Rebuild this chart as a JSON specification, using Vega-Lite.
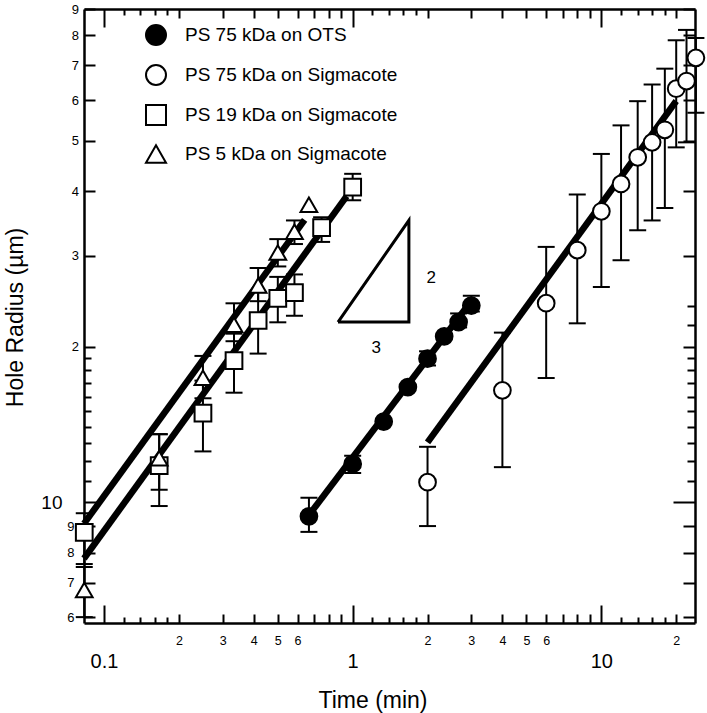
{
  "$schema": "https://vega.github.io/schema/vega-lite/v6.json",
  "width": 611,
  "height": 614,
  "autosize": "none",
  "padding": {"left": 84, "top": 9, "right": 12, "bottom": 90},
  "background": "white",
  "config": {
    "view": {"stroke": null},
    "font": "Liberation Sans",
    "legend": {"symbolStrokeWidth": 2, "symbolSize": 400, "symbolOpacity": 1}
  },
  "datasets": {
    "pts": [
      {"series": "PS 75 kDa on OTS", "t": 0.667, "r": 9.40, "lo": 8.77, "hi": 10.21},
      {"series": "PS 75 kDa on OTS", "t": 1.0, "r": 11.87, "lo": 11.4, "hi": 12.31},
      {"series": "PS 75 kDa on OTS", "t": 1.333, "r": 14.33, "lo": null, "hi": null},
      {"series": "PS 75 kDa on OTS", "t": 1.667, "r": 16.71, "lo": null, "hi": null},
      {"series": "PS 75 kDa on OTS", "t": 2.0, "r": 18.97, "lo": 18.4, "hi": 19.6},
      {"series": "PS 75 kDa on OTS", "t": 2.333, "r": 20.95, "lo": null, "hi": null},
      {"series": "PS 75 kDa on OTS", "t": 2.667, "r": 22.32, "lo": 21.8, "hi": 23.2},
      {"series": "PS 75 kDa on OTS", "t": 3.0, "r": 24.03, "lo": 23.4, "hi": 25.1},
      {"series": "PS 75 kDa on Sigmacote", "t": 2, "r": 10.94, "lo": 9.0, "hi": 12.81},
      {"series": "PS 75 kDa on Sigmacote", "t": 4, "r": 16.47, "lo": 11.7, "hi": 21.3},
      {"series": "PS 75 kDa on Sigmacote", "t": 6, "r": 24.28, "lo": 17.4, "hi": 31.2},
      {"series": "PS 75 kDa on Sigmacote", "t": 8, "r": 30.75, "lo": 22.2, "hi": 39.4},
      {"series": "PS 75 kDa on Sigmacote", "t": 10, "r": 36.56, "lo": 26.1, "hi": 47.2},
      {"series": "PS 75 kDa on Sigmacote", "t": 12, "r": 41.3, "lo": 29.4, "hi": 53.6},
      {"series": "PS 75 kDa on Sigmacote", "t": 14, "r": 46.5, "lo": 33.6, "hi": 59.7},
      {"series": "PS 75 kDa on Sigmacote", "t": 16, "r": 49.7, "lo": 35.1, "hi": 64.3},
      {"series": "PS 75 kDa on Sigmacote", "t": 18, "r": 52.55, "lo": 37.1, "hi": 69.0},
      {"series": "PS 75 kDa on Sigmacote", "t": 20, "r": 63.1, "lo": 48.6, "hi": 78.3},
      {"series": "PS 75 kDa on Sigmacote", "t": 22, "r": 65.3, "lo": 49.7, "hi": 82.0},
      {"series": "PS 75 kDa on Sigmacote", "t": 24, "r": 72.4, "lo": 56.7, "hi": 79.1},
      {"series": "PS 19 kDa on Sigmacote", "t": 0.0833, "r": 8.75, "lo": 7.6, "hi": 9.53},
      {"series": "PS 19 kDa on Sigmacote", "t": 0.1667, "r": 11.78, "lo": 9.84, "hi": 13.55},
      {"series": "PS 19 kDa on Sigmacote", "t": 0.25, "r": 14.88, "lo": 12.55, "hi": 17.2},
      {"series": "PS 19 kDa on Sigmacote", "t": 0.3333, "r": 18.81, "lo": 16.3, "hi": 21.2},
      {"series": "PS 19 kDa on Sigmacote", "t": 0.4167, "r": 22.48, "lo": 19.4, "hi": 25.5},
      {"series": "PS 19 kDa on Sigmacote", "t": 0.5, "r": 24.82, "lo": 22.3, "hi": 27.3},
      {"series": "PS 19 kDa on Sigmacote", "t": 0.5833, "r": 25.46, "lo": 22.96, "hi": 27.6},
      {"series": "PS 19 kDa on Sigmacote", "t": 0.75, "r": 33.98, "lo": 31.9, "hi": 35.6},
      {"series": "PS 19 kDa on Sigmacote", "t": 1.0, "r": 40.7, "lo": 38.4, "hi": 43.2},
      {"series": "PS 5 kDa on Sigmacote", "t": 0.0833, "r": 6.77, "lo": 6.0, "hi": 7.5},
      {"series": "PS 5 kDa on Sigmacote", "t": 0.1667, "r": 12.17, "lo": 10.58, "hi": 13.55},
      {"series": "PS 5 kDa on Sigmacote", "t": 0.25, "r": 17.42, "lo": 15.9, "hi": 19.2},
      {"series": "PS 5 kDa on Sigmacote", "t": 0.3333, "r": 22.07, "lo": 20.5, "hi": 24.27},
      {"series": "PS 5 kDa on Sigmacote", "t": 0.4167, "r": 26.26, "lo": 24.5, "hi": 28.4},
      {"series": "PS 5 kDa on Sigmacote", "t": 0.5, "r": 30.43, "lo": 28.6, "hi": 32.3},
      {"series": "PS 5 kDa on Sigmacote", "t": 0.5833, "r": 33.36, "lo": 31.6, "hi": 35.1},
      {"series": "PS 5 kDa on Sigmacote", "t": 0.6667, "r": 37.63, "lo": null, "hi": null}
    ],
    "fits": [
      {"series": "PS 75 kDa on OTS", "t": 0.667, "r": 9.45},
      {"series": "PS 75 kDa on OTS", "t": 2.86, "r": 23.8},
      {"series": "PS 75 kDa on Sigmacote", "t": 2.0, "r": 13.06},
      {"series": "PS 75 kDa on Sigmacote", "t": 20, "r": 59.75},
      {"series": "PS 19 kDa on Sigmacote", "t": 0.0831, "r": 7.79},
      {"series": "PS 19 kDa on Sigmacote", "t": 0.946, "r": 39.1},
      {"series": "PS 5 kDa on Sigmacote", "t": 0.0831, "r": 9.1},
      {"series": "PS 5 kDa on Sigmacote", "t": 0.641, "r": 35.2}
    ],
    "slope": [
      {"i": 0, "t": 0.873, "r": 22.32},
      {"i": 1, "t": 1.683, "r": 22.32},
      {"i": 2, "t": 1.683, "r": 35.12},
      {"i": 3, "t": 0.873, "r": 22.32}
    ],
    "slopeText": [
      {"txt": "2", "t": 2.07, "r": 27.13},
      {"txt": "3", "t": 1.245, "r": 19.89}
    ]
  },
  "layer": [
    {
      "data": {"name": "fits"},
      "mark": {"type": "line", "color": "black", "strokeWidth": 6.5},
      "encoding": {
        "x": {
          "field": "t", "type": "quantitative",
          "scale": {"type": "log", "domain": [0.0831, 23.8]},
          "axis": {
            "orient": "bottom",
            "values": [0.1, 0.12, 0.14, 0.16, 0.18, 0.2, 0.3, 0.4, 0.5, 0.6, 0.7, 0.8, 0.9, 1, 1.2, 1.4, 1.6, 1.8, 2, 3, 4, 5, 6, 7, 8, 9, 10, 12, 14, 16, 18, 20],
            "title": "Time (min)",
            "titleFontSize": 23, "titleFontWeight": "normal", "titleColor": "black",
            "titleX": 288.5, "titleY": 84, "titleBaseline": "alphabetic", "titleAlign": "center",
            "domainColor": "black", "domainWidth": 2.5,
            "tickColor": "black", "tickWidth": 2,
            "tickSize": {"condition": [
              {"test": "indexof([0.1, 1, 10], datum.value) >= 0", "value": -18},
              {"test": "indexof([0.12, 0.14, 0.16, 0.18, 1.2, 1.4, 1.6, 1.8, 12, 14, 16, 18], datum.value) >= 0", "value": -6}
            ], "value": -9},
            "labelExpr": "indexof([0.1, 1, 10], datum.value) >= 0 ? format(datum.value, '~g') : indexof([0.2, 0.3, 0.4, 0.5, 0.6, 2, 3, 4, 5, 6, 20], datum.value) >= 0 ? format(datum.value / pow(10, floor(log(datum.value) / LN10 + 1e-9)), '.0f') : ''",
            "labelFontSize": {"condition": {"test": "indexof([0.1, 1, 10], datum.value) >= 0", "value": 20}, "value": 12.5},
            "labelPadding": {"condition": {"test": "indexof([0.1, 1, 10], datum.value) >= 0", "value": 46}, "value": 20.5},
            "labelColor": "black", "labelOverlap": false, "labelFlush": false, "grid": false
          }
        },
        "y": {
          "field": "r", "type": "quantitative",
          "scale": {"type": "log", "domain": [5.845, 90]},
          "axis": {
            "orient": "left",
            "values": [6, 7, 8, 9, 10, 11, 12, 13, 14, 15, 16, 17, 18, 19, 20, 30, 40, 50, 60, 70, 80, 90],
            "title": "Hole Radius (µm)",
            "titleFontSize": 23, "titleFontWeight": "normal", "titleColor": "black",
            "titleX": -62, "titleY": 308, "titleAngle": -90, "titleBaseline": "alphabetic", "titleAlign": "center",
            "domainColor": "black", "domainWidth": 2.5,
            "tickColor": "black", "tickWidth": 2,
            "tickSize": {"condition": [
              {"test": "datum.value == 10", "value": -16},
              {"test": "datum.value > 10 && datum.value < 20", "value": -7}
            ], "value": -11},
            "labelExpr": "datum.value == 10 ? '10' : (datum.value > 10 && datum.value < 20) ? '' : format(datum.value >= 20 ? datum.value / 10 : datum.value, 'd')",
            "labelFontSize": {"condition": {"test": "datum.value == 10", "value": 19}, "value": 13},
            "labelPadding": {"condition": [
              {"test": "datum.value == 10", "value": 38},
              {"test": "datum.value >= 20", "value": 16.5}
            ], "value": 21},
            "labelColor": "black", "labelOverlap": false, "labelFlush": false, "grid": false
          }
        },
        "detail": {"field": "series"}
      }
    },
    {
      "data": {"name": "pts"},
      "transform": [{"filter": "isValid(datum.lo)"}],
      "mark": {"type": "rule", "color": "black", "strokeWidth": 2},
      "encoding": {
        "x": {
          "field": "t", "type": "quantitative",
          "scale": {"type": "log", "domain": [0.0831, 23.8]},
          "axis": {
            "orient": "top",
            "values": [0.1, 0.12, 0.14, 0.16, 0.18, 0.2, 0.3, 0.4, 0.5, 0.6, 0.7, 0.8, 0.9, 1, 1.2, 1.4, 1.6, 1.8, 2, 3, 4, 5, 6, 7, 8, 9, 10, 12, 14, 16, 18, 20],
            "title": null, "labels": false,
            "domainColor": "black", "domainWidth": 2.5,
            "tickColor": "black", "tickWidth": 2,
            "tickSize": {"condition": [
              {"test": "indexof([0.1, 1, 10], datum.value) >= 0", "value": -18},
              {"test": "indexof([0.12, 0.14, 0.16, 0.18, 1.2, 1.4, 1.6, 1.8, 12, 14, 16, 18], datum.value) >= 0", "value": -6}
            ], "value": -9},
            "grid": false
          }
        },
        "y": {
          "field": "lo", "type": "quantitative",
          "scale": {"type": "log", "domain": [5.845, 90]},
          "axis": {
            "orient": "right",
            "values": [6, 7, 8, 9, 10, 11, 12, 13, 14, 15, 16, 17, 18, 19, 20, 22, 24, 30, 40, 50, 60, 70, 80, 90],
            "title": null, "labels": false,
            "domainColor": "black", "domainWidth": 2.5,
            "tickColor": "black", "tickWidth": 2,
            "tickSize": {"condition": [
              {"test": "datum.value == 10", "value": -22},
              {"test": "(datum.value > 10 && datum.value < 20) || datum.value == 22 || datum.value == 24", "value": -8}
            ], "value": -12},
            "grid": false
          }
        },
        "y2": {"field": "hi"}
      }
    },
    {
      "data": {"name": "pts"},
      "transform": [
        {"fold": ["lo", "hi"], "as": ["k", "cap"]},
        {"filter": "isValid(datum.cap)"}
      ],
      "mark": {"type": "tick", "orient": "horizontal", "color": "black", "size": 17, "thickness": 2, "opacity": 1},
      "encoding": {
        "x": {"field": "t", "type": "quantitative", "scale": {"type": "log", "domain": [0.0831, 23.8]}, "axis": null},
        "y": {"field": "cap", "type": "quantitative", "scale": {"type": "log", "domain": [5.845, 90]}, "axis": null}
      }
    },
    {
      "data": {"name": "pts"},
      "mark": {"type": "point", "strokeWidth": 2, "size": 280, "opacity": 1, "fillOpacity": 1, "strokeOpacity": 1},
      "encoding": {
        "x": {"field": "t", "type": "quantitative", "scale": {"type": "log", "domain": [0.0831, 23.8]}, "axis": null},
        "y": {"field": "r", "type": "quantitative", "scale": {"type": "log", "domain": [5.845, 90]}, "axis": null},
        "shape": {
          "field": "series", "type": "nominal",
          "scale": {"domain": ["PS 75 kDa on OTS", "PS 75 kDa on Sigmacote", "PS 19 kDa on Sigmacote", "PS 5 kDa on Sigmacote"], "range": ["circle", "circle", "square", "triangle-up"]},
          "legend": {"title": null, "orient": "none", "legendX": 61, "legendY": 15, "labelFontSize": 19, "labelColor": "black", "labelOffset": 18, "rowPadding": 12, "labelLimit": 400}
        },
        "fill": {
          "field": "series", "type": "nominal",
          "scale": {"domain": ["PS 75 kDa on OTS", "PS 75 kDa on Sigmacote", "PS 19 kDa on Sigmacote", "PS 5 kDa on Sigmacote"], "range": ["black", "white", "white", "white"]},
          "legend": {"title": null, "orient": "none", "legendX": 61, "legendY": 15, "labelFontSize": 19, "labelColor": "black", "labelOffset": 18, "rowPadding": 12, "labelLimit": 400}
        },
        "stroke": {
          "field": "series", "type": "nominal",
          "scale": {"domain": ["PS 75 kDa on OTS", "PS 75 kDa on Sigmacote", "PS 19 kDa on Sigmacote", "PS 5 kDa on Sigmacote"], "range": ["black", "black", "black", "black"]},
          "legend": {"title": null, "orient": "none", "legendX": 61, "legendY": 15, "labelFontSize": 19, "labelColor": "black", "labelOffset": 18, "rowPadding": 12, "labelLimit": 400}
        }
      }
    },
    {
      "data": {"name": "slope"},
      "mark": {"type": "line", "color": "black", "strokeWidth": 3, "strokeJoin": "miter"},
      "encoding": {
        "x": {"field": "t", "type": "quantitative", "scale": {"type": "log", "domain": [0.0831, 23.8]}, "axis": null},
        "y": {"field": "r", "type": "quantitative", "scale": {"type": "log", "domain": [5.845, 90]}, "axis": null},
        "order": {"field": "i", "type": "quantitative"}
      }
    },
    {
      "data": {"name": "slopeText"},
      "mark": {"type": "text", "fontSize": 17, "color": "black", "align": "center", "baseline": "middle"},
      "encoding": {
        "x": {"field": "t", "type": "quantitative", "scale": {"type": "log", "domain": [0.0831, 23.8]}, "axis": null},
        "y": {"field": "r", "type": "quantitative", "scale": {"type": "log", "domain": [5.845, 90]}, "axis": null},
        "text": {"field": "txt"}
      }
    }
  ],
  "resolve": {"axis": {"x": "independent", "y": "independent"}}
}
